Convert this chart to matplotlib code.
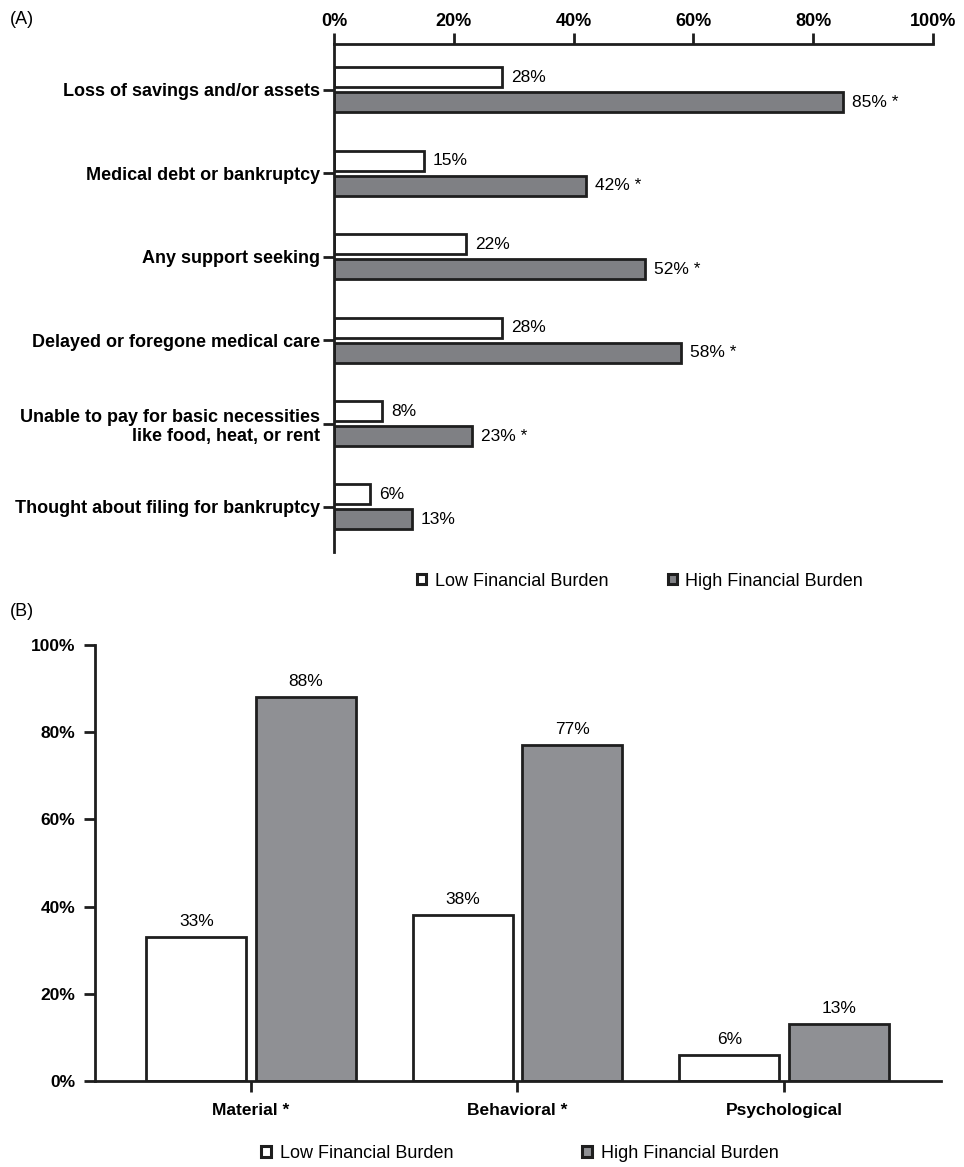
import matplotlib.pyplot as plt
from matplotlib.patches import Patch
import numpy as np

plt.rcParams["font.family"] = ["Liberation Sans", "DejaVu Sans"]

# Panel A data
outcomes = [
    "Loss of savings and/or assets",
    "Medical debt or bankruptcy",
    "Any support seeking",
    "Delayed or foregone medical care",
    "Unable to pay for basic necessities\nlike food, heat, or rent",
    "Thought about filing for bankruptcy",
]
low_a = [28, 15, 22, 28, 8, 6]
high_a = [85, 42, 52, 58, 23, 13]
sig_a = [True, True, True, True, True, False]

# Panel B data
domains = ["Material *", "Behavioral *", "Psychological"]
low_b = [33, 38, 6]
high_b = [88, 77, 13]

series_names = ["Low Financial Burden", "High Financial Burden"]
EDGE = "#1e1e1e"
GRAY_A = "#7f8084"
GRAY_B = "#8f9094"

fig = plt.figure(figsize=(9.64, 11.67), dpi=100)

# ---- Panel A ----
axA = fig.add_axes([334 / 964, 1 - 552 / 1167, (933 - 334) / 964, (552 - 44) / 1167])
y = np.arange(len(outcomes))
h = 0.24
axA.barh(y - 0.15, low_a, height=h, color="white", edgecolor=EDGE, linewidth=2)
axA.barh(y + 0.15, high_a, height=h, color=GRAY_A, edgecolor=EDGE, linewidth=2)
for i in range(len(outcomes)):
    axA.text(low_a[i] + 1.5, y[i] - 0.15, f"{low_a[i]}%", va="center", ha="left", fontsize=12.5)
    star = " *" if sig_a[i] else ""
    axA.text(high_a[i] + 1.5, y[i] + 0.15, f"{high_a[i]}%{star}", va="center", ha="left", fontsize=12.5)

axA.set_xlim(0, 100)
axA.set_ylim(len(outcomes) - 1 + 0.54, -0.55)
axA.xaxis.tick_top()
axA.set_xticks(np.arange(0, 101, 20))
axA.set_xticklabels([f"{v}%" for v in range(0, 101, 20)], fontsize=13, fontweight="bold")
axA.set_yticks(y)
axA.set_yticklabels(outcomes, fontsize=13, fontweight="bold", ha="right")
axA.tick_params(axis="both", length=8, width=2, color=EDGE, pad=2)
for side in ["right", "bottom"]:
    axA.spines[side].set_visible(False)
for side in ["left", "top"]:
    axA.spines[side].set_linewidth(2)
    axA.spines[side].set_color(EDGE)

handles = [
    Patch(facecolor="white", edgecolor=EDGE, linewidth=2.2),
    Patch(facecolor=GRAY_A, edgecolor=EDGE, linewidth=2.2),
]
fig.legend(handles, series_names, loc="center", bbox_to_anchor=(640 / 964, 1 - 581 / 1167),
           ncol=2, frameon=False, fontsize=13, handlelength=0.5, handleheight=0.5,
           handletextpad=0.45, columnspacing=3.3)

fig.text(10 / 964, 1 - 20 / 1167, "(A)", fontsize=13, va="center", ha="left")

# ---- Panel B ----
axB = fig.add_axes([95 / 964, 1 - 1081 / 1167, (941 - 95) / 964, (1081 - 645) / 1167])
x = np.arange(len(domains))
w = 0.375
axB.bar(x - 0.205, low_b, width=w, color="white", edgecolor=EDGE, linewidth=2)
axB.bar(x + 0.205, high_b, width=w, color=GRAY_B, edgecolor=EDGE, linewidth=2)
for i in range(len(domains)):
    axB.text(x[i] - 0.205, low_b[i] + 1.8, f"{low_b[i]}%", ha="center", va="bottom", fontsize=12.5)
    axB.text(x[i] + 0.205, high_b[i] + 1.8, f"{high_b[i]}%", ha="center", va="bottom", fontsize=12.5)

axB.set_xlim(-0.585, 2.589)
axB.set_ylim(0, 100)
axB.set_yticks(np.arange(0, 101, 20))
axB.set_yticklabels([f"{v}%" for v in range(0, 101, 20)], fontsize=12.5, fontweight="bold")
axB.set_xticks(x)
axB.set_xticklabels(domains, fontsize=12.5, fontweight="bold")
axB.tick_params(axis="y", length=8, width=2, color=EDGE, pad=6)
axB.tick_params(axis="x", length=8, width=2, color=EDGE, pad=8)
for side in ["right", "top"]:
    axB.spines[side].set_visible(False)
for side in ["left", "bottom"]:
    axB.spines[side].set_linewidth(2)
    axB.spines[side].set_color(EDGE)

handlesB = [
    Patch(facecolor="white", edgecolor=EDGE, linewidth=2.2),
    Patch(facecolor=GRAY_B, edgecolor=EDGE, linewidth=2.2),
]
fig.legend(handlesB, series_names, loc="center", bbox_to_anchor=(520 / 964, 1 - 1153 / 1167),
           ncol=2, frameon=False, fontsize=13, handlelength=0.55, handleheight=0.55,
           handletextpad=0.5, columnspacing=7.1)

fig.text(10 / 964, 1 - 612 / 1167, "(B)", fontsize=13, va="center", ha="left")

fig.savefig("out.png", dpi=100)
